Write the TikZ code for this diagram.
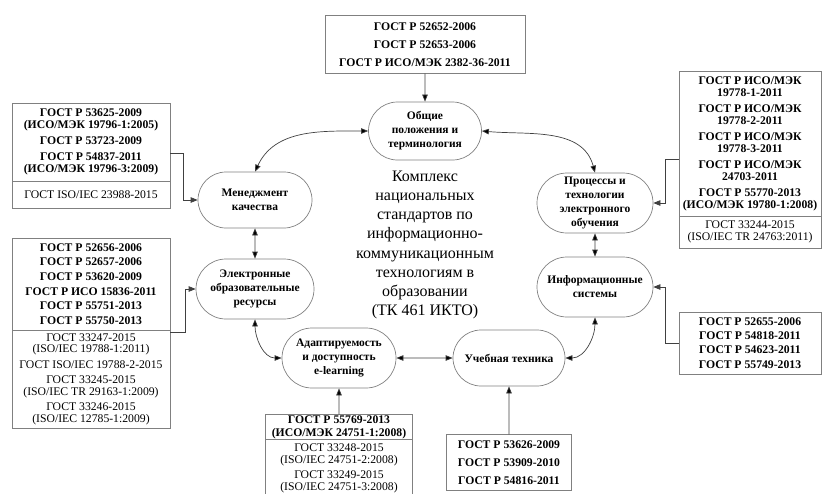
\documentclass[tikz,border=0pt]{standalone}
\usepackage{fontspec}
\setmainfont{Liberation Serif}
\usepackage{tikz}
\usetikzlibrary{positioning, shapes.misc, arrows.meta}
\tikzset{
    >={Triangle[length=7pt, width=5.5pt]}, % filled arrow heads, as in the scheme
    theme/.style={rounded rectangle, draw=black!50, line width=0.7pt, inner sep=0pt, align=center, font=\bfseries\fontsize{11.5}{14}\selectfont}, % topics round the centre
    gost/.style={rectangle, draw=black!50, line width=0.7pt, inner sep=0pt, outer sep=0pt, align=center}, % boxes with the lists of standards
    gostb/.style={gost, font=\bfseries\fontsize{11.7}{12}\selectfont}, % national standards (bold)
    gostr/.style={gost, font=\fontsize{11.7}{11.5}\selectfont}, % interstate standards (regular)
    link/.style={draw=black!75, line width=0.7pt}, % connectors
}
\begin{document}
\begin{tikzpicture}[x=1pt, y=1pt]
\useasboundingbox (0,0) rectangle (822,-493);
\clip (0,0) rectangle (822,-493);
\node[theme, minimum width=113pt, minimum height=58pt] (gen) at (425,-131) {Общие\\положения и\\терминология};
\node[theme, minimum width=114pt, minimum height=56pt] (mgmt) at (255,-200) {Менеджмент\\качества};
\node[theme, minimum width=118pt, minimum height=60pt] (eor) at (255,-289) {Электронные\\образовательные\\ресурсы};
\node[theme, minimum width=114pt, minimum height=60pt] (adapt) at (339,-358) {Адаптируемость\\и доступность\\e-learning};
\node[theme, minimum width=112pt, minimum height=56pt] (tech) at (509,-358) {Учебная техника};
\node[theme, minimum width=116pt, minimum height=60pt] (info) at (595,-287) {Информационные\\системы};
\node[theme, minimum width=116pt, minimum height=60pt] (proc) at (595,-203) {Процессы и\\технологии\\электронного\\обучения};
\node[align=center, font=\fontsize{16}{19.1}\selectfont] (tk) at (425,-245) {Комплекс\\национальных\\стандартов по\\информационно-\\коммуникационным\\технологиям в\\образовании\\(ТК 461 ИКТО)};
\node[gostb, minimum width=200pt, minimum height=58pt, above=28pt of gen] (top) {ГОСТ Р 52652-2006\\[6pt]ГОСТ Р 52653-2006\\[6pt]ГОСТ Р ИСО/МЭК 2382-36-2011};
\node[gostb, minimum width=158pt, minimum height=78pt] (ltA) at (91,-142) {ГОСТ Р 53625-2009\\(ИСО/МЭК 19796-1:2005)\\[4pt]ГОСТ Р 53723-2009\\[4pt]ГОСТ Р 54837-2011\\(ИСО/МЭК 19796-3:2009)};
\node[gostr, minimum width=158pt, minimum height=27pt, below=0pt of ltA] (ltB) {ГОСТ ISO/IEC 23988-2015};
\node[gostb, minimum width=158pt, minimum height=92pt] (lbA) at (91,-284) {ГОСТ Р 52656-2006\\[2.6pt]ГОСТ Р 52657-2006\\[2.6pt]ГОСТ Р 53620-2009\\[2.6pt]ГОСТ Р ИСО 15836-2011\\[2.6pt]ГОСТ Р 55751-2013\\[2.6pt]ГОСТ Р 55750-2013};
\node[gostr, minimum width=158pt, minimum height=98pt, below=0pt of lbA] (lbB) {ГОСТ 33247-2015\\(ISO/IEC 19788-1:2011)\\[4pt]ГОСТ ISO/IEC 19788-2-2015\\[4pt]ГОСТ 33245-2015\\(ISO/IEC TR 29163-1:2009)\\[4pt]ГОСТ 33246-2015\\(ISO/IEC 12785-1:2009)};
\node[gostb, minimum width=142pt, minimum height=145pt] (rtA) at (750,-143.5) {ГОСТ Р ИСО/МЭК\\19778-1-2011\\[4pt]ГОСТ Р ИСО/МЭК\\19778-2-2011\\[4pt]ГОСТ Р ИСО/МЭК\\19778-3-2011\\[4pt]ГОСТ Р ИСО/МЭК\\24703-2011\\[4pt]ГОСТ Р 55770-2013\\(ИСО/МЭК 19780-1:2008)};
\node[gostr, minimum width=142pt, minimum height=32pt, below=0pt of rtA] (rtB) {ГОСТ 33244-2015\\(ISO/IEC TR 24763:2011)};
\node[gostb, minimum width=142pt, minimum height=62pt] (rbox) at (750,-343) {ГОСТ Р 52655-2006\\[2.3pt]ГОСТ Р 54818-2011\\[2.3pt]ГОСТ Р 54623-2011\\[2.3pt]ГОСТ Р 55749-2013};
\node[gostb, minimum width=147pt, minimum height=25pt, below=26pt of adapt] (bcA) {ГОСТ Р 55769-2013\\[1pt](ИСО/МЭК 24751-1:2008)};
\node[gostr, minimum width=147pt, minimum height=58pt, below=0pt of bcA] (bcB) {ГОСТ 33248-2015\\(ISO/IEC 24751-2:2008)\\[4pt]ГОСТ 33249-2015\\(ISO/IEC 24751-3:2008)};
\node[gostb, minimum width=125pt, minimum height=56pt, below=48pt of tech] (brbox) {ГОСТ Р 53626-2009\\[6pt]ГОСТ Р 53909-2010\\[6pt]ГОСТ Р 54816-2011};
\draw[link]
    (top) edge[->] (gen)
    (bcA) edge[->] (adapt)
    (brbox) edge[->] (tech)
    (mgmt) edge[<->] (eor)
    (proc) edge[<->] (info)
    (adapt) edge[<->] (tech)
    (mgmt.north) edge[<->, out=65, in=180] (gen.west)
    (gen.east) edge[<->, out=-5, in=105] (proc.north)
    (info.south) edge[<->, out=-90, in=0] (tech.east)
    (eor.south) edge[<->, out=-90, in=180] (adapt.west);
\draw[link, ->] ([yshift=-11pt]ltA.east) -- ++(13,0) |- (mgmt.west);
\draw[link, ->] ([yshift=-2pt]lbA.south east) -- ++(15,0) |- (eor.west);
\draw[link, ->] ([yshift=-15.5pt]rtA.west) -- ++(-14,0) |- (proc.east);
\draw[link, ->] (rbox.west) -- ++(-14,0) |- (info.east);
\end{tikzpicture}
\end{document}
